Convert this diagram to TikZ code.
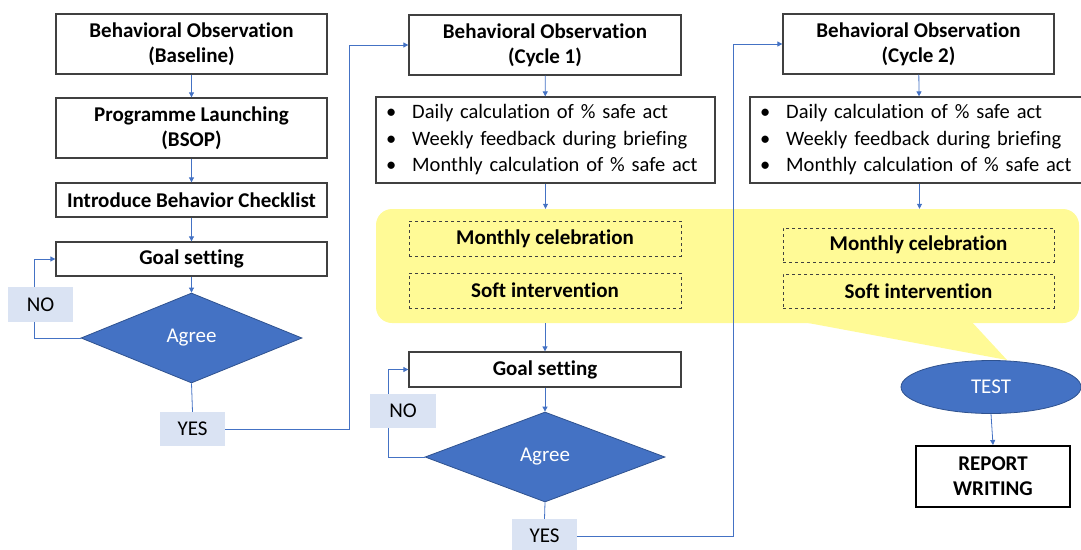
\documentclass[tikz,border=0pt]{standalone}
\usepackage{fontspec}
\setmainfont[Ligatures=NoCommon]{Carlito}
\usetikzlibrary{shapes.geometric,arrows.meta}
\definecolor{lineblue}{HTML}{4472C4}
\definecolor{dmdborder}{HTML}{2F528F}
\definecolor{lblfill}{HTML}{DAE3F3}
\definecolor{boxline}{HTML}{404040}
\definecolor{bandyellow}{RGB}{255,250,150}
\begin{document}
\begin{tikzpicture}[x=1pt,y=-1pt,
  box/.style={draw=boxline, line width=1.3pt, fill=white, inner sep=0pt, align=center, font=\fontsize{21}{25}\selectfont\bfseries},
  bul/.style={draw=boxline, line width=1.3pt, fill=white, inner xsep=10pt, inner ysep=0pt, text width=319pt, align=left, font=\fontsize{20.5}{26.5}\selectfont},
  dbox/.style={draw=boxline, line width=0.9pt, dashed, inner sep=0pt, align=center, font=\fontsize{21}{25}\selectfont\bfseries},
  dmd/.style={diamond, draw=dmdborder, line width=0.8pt, fill=lineblue, inner sep=0pt, text=white, font=\fontsize{21}{25}\selectfont},
  oval/.style={ellipse, draw=dmdborder, line width=0.8pt, fill=lineblue, inner sep=0pt, text=white, font=\fontsize{21}{25}\selectfont},
  lbl/.style={fill=lblfill, inner sep=0pt, font=\fontsize{21}{25}\selectfont},
  band/.style={fill=bandyellow, rounded corners=16pt, inner sep=0pt},
  conn/.style={draw=lineblue, line width=0.8pt, -{Triangle[length=5pt,width=5pt]}},
  plain/.style={draw=lineblue, line width=0.8pt},
  repbox/.style={draw=black, line width=2pt, fill=white, inner sep=0pt, align=center, font=\fontsize{21}{25}\selectfont\bfseries}
]
\useasboundingbox (0,0) rectangle (1081,549);
% yellow callout band
\node[band, minimum width=703, minimum height=114] (band) at (727.5,266) {};
\coordinate (tip) at (1007,360);
\fill[bandyellow] (792,320) -- (tip) -- (970,320) -- cycle;

% left column
\node[box, minimum width=271, minimum height=60] (b0) at (191.5,44) {Behavioral Observation\\(Baseline)};
\node[box, minimum width=271, minimum height=60] (b1) at (191.5,128) {Programme Launching\\(BSOP)};
\node[box, minimum width=271, minimum height=34] (b2) at (191.5,200) {Introduce Behavior Checklist};
\node[box, minimum width=271, minimum height=34] (g1) at (191.5,259) {Goal setting};
\node[dmd, minimum width=221, minimum height=90] (d1) at (191.5,338) {Agree};
\node[lbl, minimum width=65, minimum height=34] (yes1) at (192.5,429) {YES};

% middle column
\node[box, minimum width=272, minimum height=60] (c1) at (545,45) {Behavioral Observation\\(Cycle 1)};
\node[bul, minimum height=86] (l1) at (545.5,140) {\textbullet\hspace{16pt}Daily calculation of \% safe act\\\textbullet\hspace{16pt}Weekly feedback during briefing\\\textbullet\hspace{16pt}Monthly calculation of \% safe act};
\node[dbox, minimum width=272, minimum height=35] (m1) at (545,238.5) {Monthly celebration};
\node[dbox, minimum width=272, minimum height=35] (s1) at (545,290.5) {Soft intervention};
\node[box, minimum width=272, minimum height=35] (g2) at (545,369.5) {Goal setting};
\node[dmd, minimum width=240, minimum height=90] (d2) at (545,457) {Agree};
\node[lbl, minimum width=65, minimum height=34] (yes2) at (544.5,536) {YES};

% right column
\node[box, minimum width=271, minimum height=60] (c2) at (918.5,44) {Behavioral Observation\\(Cycle 2)};
\node[bul, minimum height=86] (l2) at (919.5,140) {\textbullet\hspace{16pt}Daily calculation of \% safe act\\\textbullet\hspace{16pt}Weekly feedback during briefing\\\textbullet\hspace{16pt}Monthly calculation of \% safe act};
\node[dbox, minimum width=271, minimum height=34] (m2) at (918.5,245) {Monthly celebration};
\node[dbox, minimum width=271, minimum height=34] (s2) at (918.5,291) {Soft intervention};
\node[oval, minimum width=180, minimum height=53] (test) at (991,387) {TEST};
\node[repbox, minimum width=154, minimum height=61] (rep) at (993,476.5) {REPORT\\WRITING};

% connectors
\draw[conn] (b0) -- (b1);
\draw[conn] (b1) -- (b2);
\draw[conn] (b2) -- (g1);
\draw[conn] (g1) -- (d1);
\draw[conn] (d1.west) -- ++(-46,0) |- (g1.west);
\draw[plain] (d1.south) -- (yes1.north);
\draw[conn] (yes1.east) -- ++(124,0) |- (c1.west);

\draw[conn] (c1) -- (l1);
\draw[conn] (l1.south) -- (l1.south |- band.north);
\draw[conn] (g2.north |- band.south) -- (g2.north);
\draw[conn] (g2) -- (d2);
\draw[conn] (d2.west) -- ++(-36,0) |- (g2.west);
\draw[plain] (d2.south) -- (yes2.north);
\draw[conn] (yes2.east) -- ++(156,0) |- (c2.west);

\draw[conn] (c2) -- (l2);
\draw[conn] (l2.south) -- (l2.south |- band.north);
\draw[conn] (test.south) -- (rep.north);

% labels drawn over loop lines
\node[lbl, minimum width=65, minimum height=35] (no1) at (40.5,304.5) {NO};
\node[lbl, minimum width=66, minimum height=34] (no2) at (403,411) {NO};
\end{tikzpicture}
\end{document}
